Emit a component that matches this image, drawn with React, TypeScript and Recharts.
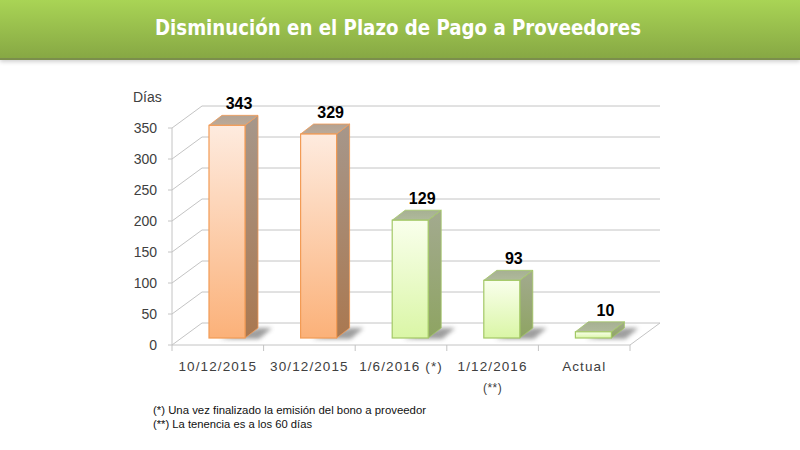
import React from 'react';
import { BarChart, Bar, XAxis, YAxis, CartesianGrid, LabelList, ReferenceLine } from 'recharts';

const categories = ['10/12/2015', '30/12/2015', '1/6/2016 (*)', '1/12/2016\n(**)', 'Actual'];
const barValues = [343, 329, 190, 93, 10];
const valueLabels = ['343', '329', '129', '93', '10'];
const yTicks = [0, 50, 100, 150, 200, 250, 300, 350];
const titleText = 'Disminución en el Plazo de Pago a Proveedores';
const yAxisTitle = 'Días';
const footnotes = ['(*) Una vez finalizado la emisión del bono a proveedor', '(**) La tenencia es a los 60 días'];
const footnoteWidths = [273, 159];

const data = categories.map((c, i) => ({ category: c, value: barValues[i], label: valueLabels[i] }));

const WALL_DX = 30;
const WALL_DY = 22;
const BAR_SHIFT_X = 9;
const BAR_SHIFT_Y = 7;
const BAR_DX = 13;
const BAR_DY = 10;
const GRID = '#c4c4c4';
const FONT = '"Liberation Sans", Arial, sans-serif';

const Bar3D = (props: any) => {
  const { x, y, width, height, index } = props;
  if (x == null || y == null) return null;
  const o = index < 2 ? 'O' : 'G';
  const stroke = index < 2 ? '#f29b55' : '#a3c866';
  const fx = x + BAR_SHIFT_X;
  const fy = y - BAR_SHIFT_Y;
  const w = width;
  const h = Math.max(height, 0);
  const bottom = fy + h;
  const shadow = `${fx + w * 0.3},${bottom + 1} ${fx + w + 14},${bottom + 1} ${fx + w + BAR_DX + 14},${bottom - BAR_DY} ${fx + w + BAR_DX},${bottom - BAR_DY}`;
  const side = `${fx + w},${fy} ${fx + w + BAR_DX},${fy - BAR_DY} ${fx + w + BAR_DX},${bottom - BAR_DY} ${fx + w},${bottom}`;
  const top = `${fx},${fy} ${fx + BAR_DX},${fy - BAR_DY} ${fx + w + BAR_DX},${fy - BAR_DY} ${fx + w},${fy}`;
  return (
    <g>
      <polygon points={shadow} fill="#5e5e5e" opacity={0.6} filter="url(#shadowBlur)" />
      <polygon points={side} fill={`url(#side${o})`} stroke={stroke} strokeWidth={0.8} strokeLinejoin="round" />
      <polygon points={top} fill={`url(#top${o})`} stroke={stroke} strokeWidth={0.8} strokeLinejoin="round" />
      <rect x={fx} y={fy} width={w} height={h} fill={`url(#front${o})`} stroke={stroke} strokeWidth={1.2} />
    </g>
  );
};

const ValueLabel = (props: any) => {
  const { x, y, width, value } = props;
  if (x == null) return null;
  const cx = x + BAR_SHIFT_X + width / 2 + BAR_DX - 1;
  const by = y - BAR_SHIFT_Y - 16;
  return (
    <text x={cx} y={by} textAnchor="middle" fontFamily={FONT} fontWeight="bold" fontSize={16} fill="#000">
      {value}
    </text>
  );
};

const XTick = (props: any) => {
  const { x, y, payload, index, visibleTicksCount } = props;
  const half = payload && payload.offset != null ? payload.offset : 45.8;
  const lines = String(payload.value).split('\n');
  const isLast = index === (visibleTicksCount ?? categories.length) - 1;
  return (
    <g>
      <line x1={x - half} y1={y} x2={x - half} y2={y + 6} stroke={GRID} strokeWidth={1} />
      {isLast && <line x1={x + half} y1={y} x2={x + half} y2={y + 6} stroke={GRID} strokeWidth={1} />}
      {lines.map((l, i) => (
        <text key={i} x={x} y={y + 26 + i * 21} textAnchor="middle" fontFamily={FONT} fontSize={i === 0 ? 13.5 : 12} letterSpacing={i === 0 ? 1.1 : 0.5} fill="#404040">
          {l}
        </text>
      ))}
    </g>
  );
};

const gridLine = (p: any) => {
  const { x1, y1, x2, key } = p;
  return (
    <path
      key={key}
      d={`M${x1},${y1} L${x1 + WALL_DX},${y1 - WALL_DY} L${x2 + WALL_DX},${y1 - WALL_DY}`}
      stroke={GRID}
      strokeWidth={1}
      fill="none"
    />
  );
};

const floorShape = (p: any) => {
  const { x1, y1, x2 } = p;
  return (
    <path d={`M${x1},${y1} L${x2},${y1} L${x2 + WALL_DX},${y1 - WALL_DY}`} stroke={GRID} strokeWidth={1} fill="none" />
  );
};

export default function App() {
  return (
    <div style={{ position: 'absolute', left: 0, top: 0, width: 800, height: 450, background: '#fff', overflow: 'hidden' }}>
      <svg width={0} height={0} style={{ position: 'absolute' }}>
        <defs>
          <linearGradient id="frontO" x1="0" y1="0" x2="0" y2="1">
            <stop offset="0%" stopColor="#feebdf" />
            <stop offset="100%" stopColor="#fbb179" />
          </linearGradient>
          <linearGradient id="sideO" x1="0" y1="0" x2="0" y2="1">
            <stop offset="0%" stopColor="#a6978b" />
            <stop offset="100%" stopColor="#aa7850" />
          </linearGradient>
          <linearGradient id="topO" x1="0" y1="0" x2="0" y2="1">
            <stop offset="0%" stopColor="#b3a292" />
            <stop offset="100%" stopColor="#bcaa99" />
          </linearGradient>
          <linearGradient id="frontG" x1="0" y1="0" x2="0" y2="1">
            <stop offset="0%" stopColor="#f9ffec" />
            <stop offset="100%" stopColor="#daf6a6" />
          </linearGradient>
          <linearGradient id="sideG" x1="0" y1="0" x2="0" y2="1">
            <stop offset="0%" stopColor="#a3aa8f" />
            <stop offset="100%" stopColor="#8ea462" />
          </linearGradient>
          <linearGradient id="topG" x1="0" y1="0" x2="0" y2="1">
            <stop offset="0%" stopColor="#a6b092" />
            <stop offset="100%" stopColor="#b0ba9c" />
          </linearGradient>
          <filter id="shadowBlur" x="-50%" y="-50%" width="200%" height="200%">
            <feGaussianBlur stdDeviation="2.2" />
          </filter>
        </defs>
      </svg>

      <div
        style={{
          position: 'absolute',
          left: 0,
          top: 0,
          width: 800,
          height: 58,
          background: 'linear-gradient(#a9d455, #87a844)',
          borderBottom: '2px solid #7b8e4c',
          boxShadow: '0 2px 4px rgba(0,0,0,0.18)',
        }}
      />

      <div style={{ position: 'absolute', left: 0, top: 0 }}>
        <BarChart width={800} height={450} data={data} margin={{ top: 128, right: 170, bottom: 0, left: 0 }}>
          <CartesianGrid vertical={false} horizontal={gridLine} />
          <ReferenceLine y={0} shape={floorShape} ifOverflow="visible" />
          <XAxis
            dataKey="category"
            height={105}
            axisLine={false}
            tickLine={false}
            tickSize={0}
            tickMargin={0}
            interval={0}
            tick={<XTick />}
          />
          <YAxis
            width={172}
            domain={[0, 350]}
            ticks={yTicks}
            interval={0}
            axisLine={{ stroke: GRID }}
            tickLine={{ stroke: GRID }}
            tickSize={4}
            tickMargin={11}
            tick={{ fill: '#404040', fontSize: 14, fontFamily: FONT }}
          />
          <Bar dataKey="value" barSize={36} shape={<Bar3D />} isAnimationActive={false}>
            <LabelList dataKey="label" content={<ValueLabel />} />
          </Bar>
        </BarChart>
      </div>

      <svg width={800} height={450} style={{ position: 'absolute', left: 0, top: 0, pointerEvents: 'none' }}>
        <text
          x={398}
          y={35}
          textAnchor="middle"
          fontFamily='"DejaVu Sans Condensed", "DejaVu Sans", sans-serif'
          fontWeight="bold"
          fontSize={22}
          fill="#ffffff"
          textLength={486}
          lengthAdjust="spacingAndGlyphs"
        >
          {titleText}
        </text>
        <text x={133} y={102} fontFamily={FONT} fontSize={14} fill="#404040">
          {yAxisTitle}
        </text>
        {footnotes.map((f, i) => (
          <text
            key={i}
            x={153}
            y={414 + i * 13.5}
            fontFamily={FONT}
            fontSize={11.5}
            fill="#111"
            textLength={footnoteWidths[i]}
            lengthAdjust="spacingAndGlyphs"
          >
            {f}
          </text>
        ))}
      </svg>
    </div>
  );
}
